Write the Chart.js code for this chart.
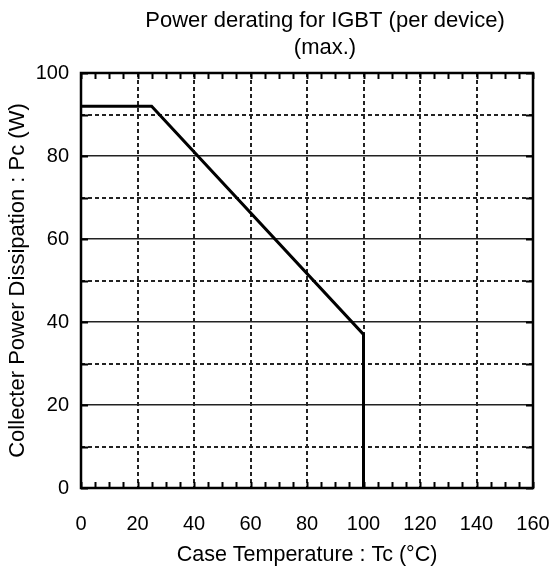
<!DOCTYPE html>
<html>
<head>
<meta charset="utf-8">
<script src="https://cdn.jsdelivr.net/npm/chart.js@4/dist/chart.umd.min.js"></script>
<style>
  html, body { margin: 0; padding: 0; background: #ffffff; }
  #wrap { width: 555px; height: 576px; position: relative; }
</style>
</head>
<body>
<div id="wrap"><canvas id="c" width="555" height="576"></canvas></div>
<script>
// ---- data ----
const caseTemp = [0, 25, 100, 100];          // Tc (°C)
const powerDissipation = [92, 92, 37, 0];    // Pc (W)
const xTickRange = [0, 160];
const yTickRange = [0, 100];
const titleLines = ['Power derating for IGBT (per device)', '(max.)'];
const xTitle = 'Case Temperature : Tc (°C)';
const yTitle = 'Collecter Power Dissipation : Pc (W)';

const FONT = "'Liberation Sans', Arial, Helvetica, sans-serif";

const titlePlugin = {
  id: 'topTitle',
  afterDraw(chart) {
    const {ctx, chartArea: a} = chart;
    ctx.save();
    ctx.fillStyle = '#000';
    ctx.font = '22px ' + FONT;
    ctx.textAlign = 'center';
    ctx.textBaseline = 'middle';
    const cx = (a.left + a.right) / 2 + 18;
    ctx.fillText(titleLines[0], cx, 21);
    ctx.fillText(titleLines[1], cx, 48);
    ctx.restore();
  }
};

const framePlugin = {
  id: 'frame',
  afterDatasetsDraw(chart) {
    const {ctx, chartArea: a, scales: {x, y}} = chart;
    ctx.save();
    ctx.strokeStyle = '#000';
    ctx.lineWidth = 2;
    ctx.beginPath();
    for (let v = xTickRange[0]; v <= xTickRange[1]; v += 5) {
      const px = Math.round(x.getPixelForValue(v)) + 0.5;
      ctx.moveTo(px, a.bottom); ctx.lineTo(px, a.bottom - 6);
      ctx.moveTo(px, a.top); ctx.lineTo(px, a.top + 6);
    }
    for (let v = yTickRange[0]; v <= yTickRange[1]; v += 10) {
      const py = Math.round(y.getPixelForValue(v)) + 0.5;
      ctx.moveTo(a.left, py); ctx.lineTo(a.left + 7, py);
      ctx.moveTo(a.right, py); ctx.lineTo(a.right - 7, py);
    }
    ctx.stroke();
    ctx.lineWidth = 2.5;
    ctx.strokeRect(a.left, a.top, a.right - a.left, a.bottom - a.top);
    ctx.restore();
  }
};

const isMajorY = ctx => ctx.tick && ctx.tick.value % 20 === 0;

new Chart(document.getElementById('c'), {
  type: 'line',
  data: {
    datasets: [{
      data: caseTemp.map((t, i) => ({x: t, y: powerDissipation[i]})),
      borderColor: '#000',
      borderWidth: 3,
      pointRadius: 0,
      tension: 0,
      fill: false
    }]
  },
  options: {
    responsive: false,
    animation: false,
    layout: { padding: { left: 0, right: 22, top: 73, bottom: 0 } },
    plugins: {
      legend: { display: false },
      tooltip: { enabled: false },
      title: { display: false }
    },
    scales: {
      x: {
        type: 'linear',
        min: xTickRange[0], max: xTickRange[1],
        afterFit(s) { s.height = 88; s.paddingLeft = 0; s.paddingRight = 0; },
        ticks: { stepSize: 20, color: '#000', padding: 24,
                 font: { family: FONT, size: 20 }, maxRotation: 0 },
        grid: { color: '#222', lineWidth: 2, drawTicks: false },
        border: { display: false, dash: () => [4, 3] },
        title: { display: true, text: xTitle, color: '#000',
                 font: { family: FONT, size: 21.5, lineHeight: 1.2 },
                 padding: { bottom: 8 } }
      },
      y: {
        type: 'linear',
        min: yTickRange[0], max: yTickRange[1],
        afterFit(s) { s.width = 81; s.paddingTop = 0; s.paddingBottom = 0; },
        ticks: { stepSize: 10, color: '#000', padding: 12,
                 font: { family: FONT, size: 20 },
                 callback: v => (v % 20 === 0 ? String(v) : '') },
        grid: { color: '#222', drawTicks: false,
                lineWidth: ctx => isMajorY(ctx) ? 1.5 : 2 },
        border: { display: false,
                  dash: ctx => (ctx.tick && !isMajorY(ctx)) ? [4, 3] : [] },
        title: { display: true, text: yTitle, color: '#000',
                 font: { family: FONT, size: 22, lineHeight: 1.2 },
                 padding: { top: 5 } }
      }
    }
  },
  plugins: [framePlugin, titlePlugin]
});
</script>
</body>
</html>
